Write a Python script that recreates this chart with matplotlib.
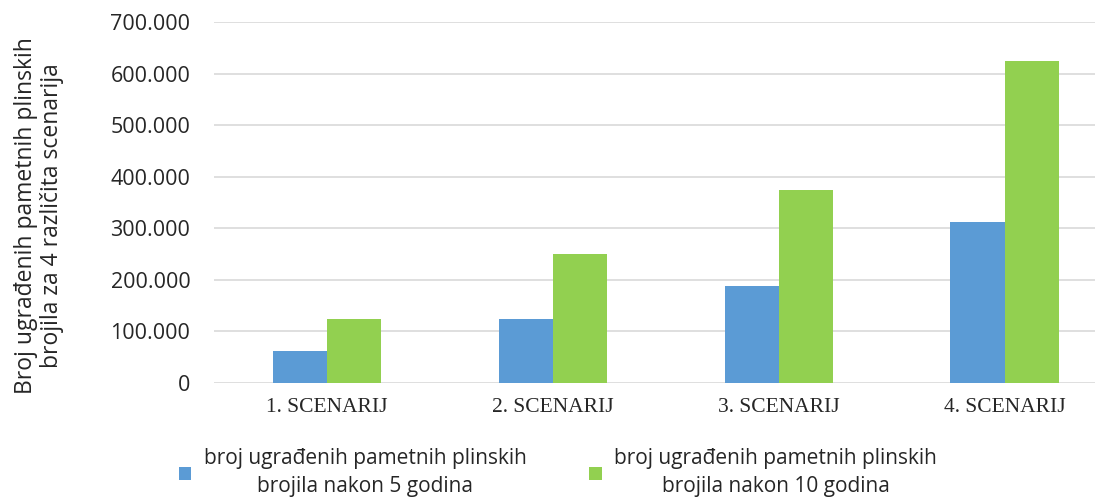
import matplotlib
matplotlib.use('Agg')
import matplotlib.pyplot as plt
from matplotlib.ticker import FuncFormatter
import numpy as np

# Data
scenarios = ['1. SCENARIJ', '2. SCENARIJ', '3. SCENARIJ', '4. SCENARIJ']
after_5_years = [62500, 125000, 187500, 312500]
after_10_years = [125000, 250000, 375000, 625000]
labels = ['broj ugrađenih pametnih plinskih\nbrojila nakon 5 godina',
          'broj ugrađenih pametnih plinskih\nbrojila nakon 10 godina']

blue = '#5B9BD5'
green = '#92D050'
grid_col = '#D9D9D9'
sans = 'Open Sans'

fig = plt.figure(figsize=(11.14, 5.01), dpi=100)
ax = fig.add_axes([214 / 1114, 1 - 383 / 501, (1095 - 214) / 1114, (383 - 22) / 501])

x = np.arange(len(scenarios))
w = 0.24
ax.bar(x - w / 2, after_5_years, width=w, color=blue, label=labels[0], zorder=3)
ax.bar(x + w / 2, after_10_years, width=w, color=green, label=labels[1], zorder=3)

ax.set_xlim(-0.5, 3.4)
ax.set_ylim(0, 700000)
ax.set_yticks(range(0, 700001, 100000))
ax.yaxis.set_major_formatter(FuncFormatter(lambda v, p: f'{int(v):,}'.replace(',', '.')))
ax.grid(axis='y', color=grid_col, linewidth=1.2, zorder=0)
for s in ['top', 'right', 'left', 'bottom']:
    ax.spines[s].set_visible(False)
ax.tick_params(axis='both', length=0)
ax.tick_params(axis='y', pad=17)
ax.tick_params(axis='x', pad=11)

ax.set_xticks(x)
ax.set_xticklabels(scenarios, fontfamily='Liberation Serif', fontsize=15.5, color='#262626')
for t in ax.get_yticklabels():
    t.set_fontfamily(sans)
    t.set_fontsize(15.5)
    t.set_color('#262626')

fig.text(0.035, 0.569, 'Broj ugrađenih pametnih plinskih\nbrojila za 4 različita scenarija',
         rotation=90, ha='center', va='center', multialignment='center',
         fontfamily=sans, fontsize=16.5, color='#262626', linespacing=1.1)

leg = fig.legend(loc='lower left', bbox_to_anchor=(160 / 1114, -0.03), ncol=2, frameon=False,
                 prop={'family': sans, 'size': 15}, handlelength=0.6, handleheight=0.6,
                 handletextpad=0.6, columnspacing=3.0)
for t in leg.get_texts():
    t.set_multialignment('center')
    t.set_linespacing(1.45)
    t.set_color('#262626')

fig.savefig('out.png', dpi=100)
